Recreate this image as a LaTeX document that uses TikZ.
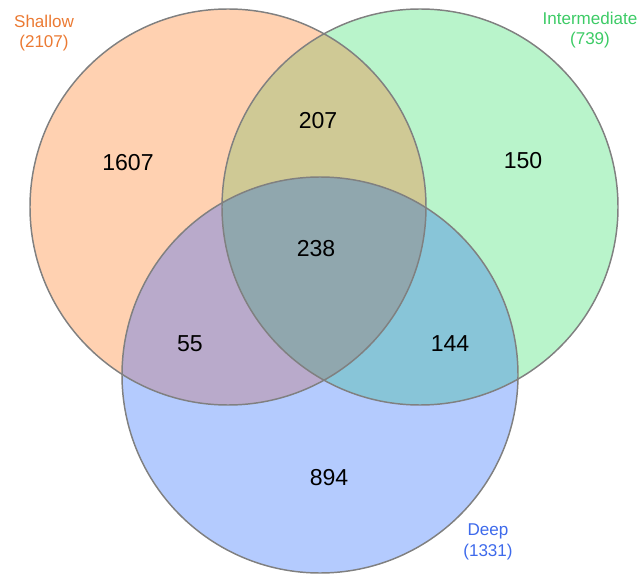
\documentclass[tikz,border=0pt]{standalone}
\usepackage{fontspec}
\setmainfont{Liberation Sans}
\definecolor{cS}{HTML}{FFD1B1}
\definecolor{cI}{HTML}{B9F4CB}
\definecolor{cD}{HTML}{B4CBFE}
\definecolor{cSI}{HTML}{CFC995}
\definecolor{cSD}{HTML}{B9AACB}
\definecolor{cID}{HTML}{88C5D8}
\definecolor{cSID}{HTML}{90A7AE}
\definecolor{edge}{HTML}{808080}
\definecolor{tS}{HTML}{EB7A33}
\definecolor{tI}{HTML}{3DCB66}
\definecolor{tD}{HTML}{3E6AEB}
\tikzset{
  num/.style={font=\fontsize{17.3}{20}\selectfont, text=black, inner sep=0pt},
  setlabel/.style={font=\fontsize{12.8}{15.5}\selectfont, align=center, inner sep=0pt},
  ring/.style={draw=edge, line width=1.1pt}
}
\begin{document}
\begin{tikzpicture}[x=0.75pt, y=-0.75pt]
\useasboundingbox (0,0) rectangle (639,574);
\coordinate (S) at (228,207);
\coordinate (I) at (420,207);
\coordinate (D) at (320,375);
\def\R{148.5pt}
% single regions
\fill[cS] (S) circle[radius=\R];
\fill[cI] (I) circle[radius=\R];
\fill[cD] (D) circle[radius=\R];
% pairwise
\begin{scope}
  \clip (S) circle[radius=\R];
  \fill[cSI] (I) circle[radius=\R];
  \fill[cSD] (D) circle[radius=\R];
\end{scope}
\begin{scope}
  \clip (I) circle[radius=\R];
  \fill[cID] (D) circle[radius=\R];
\end{scope}
\begin{scope}
  \clip (S) circle[radius=\R];
  \clip (I) circle[radius=\R];
  \fill[cSID] (D) circle[radius=\R];
\end{scope}
% outlines
\draw[ring] (S) circle[radius=\R];
\draw[ring] (I) circle[radius=\R];
\draw[ring] (D) circle[radius=\R];
% counts
\node[num] (n1607) at (128,163) {1607};
\node[num] (n207) at (318,121) {207};
\node[num] (n150) at (523,161) {150};
\node[num] (n238) at (316,249) {238};
\node[num] (n55) at (190,344) {55};
\node[num] (n144) at (450,344) {144};
\node[num] (n894) at (329,478) {894};
% set labels
\node[setlabel, text=tS] (lS) at (44,33) {Shallow\\(2107)};
\node[setlabel, text=tI] (lI) at (590,30) {Intermediate\\(739)};
\node[setlabel, text=tD] (lD) at (488,542) {Deep\\(1331)};
\end{tikzpicture}
\end{document}
